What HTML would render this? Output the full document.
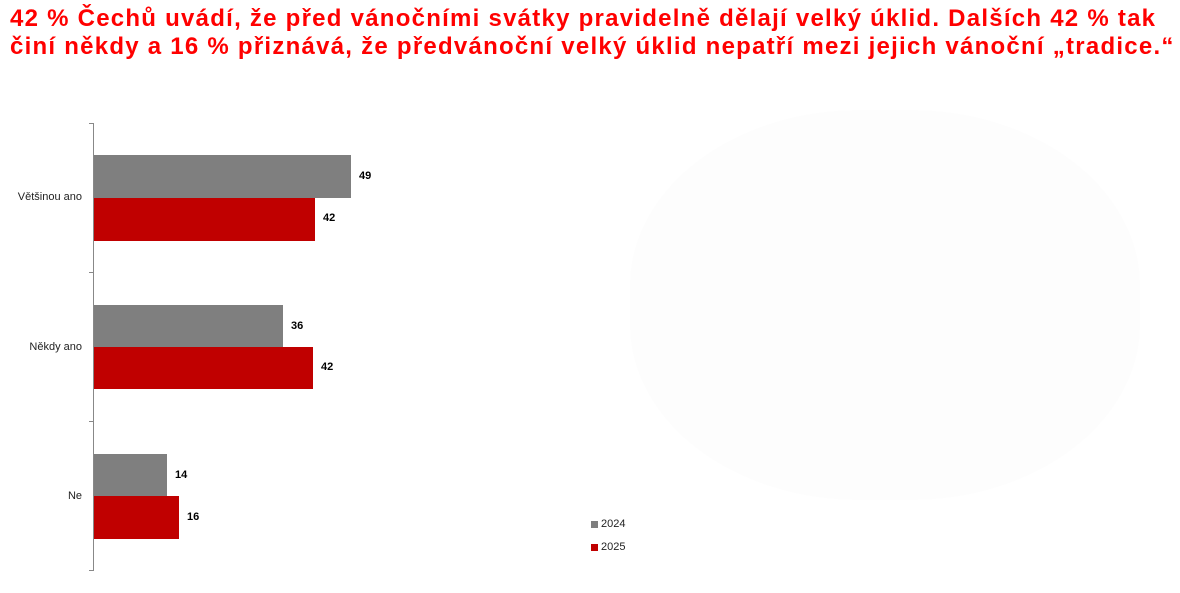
<!DOCTYPE html>
<html><head><meta charset="utf-8"><style>
body{margin:0;width:1180px;height:593px;background:#fff;position:relative;overflow:hidden;font-family:"Liberation Sans",sans-serif}
.t{position:absolute;left:10px;top:5px;color:#f00;font-weight:bold;font-size:24px;letter-spacing:1.25px;line-height:28px;white-space:nowrap}
.b{position:absolute;left:94px}
.g{background:#7f7f7f}.r{background:#c00000}
.v{position:absolute;font-size:11px;font-weight:bold;color:#000}
.c{position:absolute;font-size:11px;color:#222;text-align:right;width:80px;left:2px}
.l{position:absolute;font-size:11px;color:#222}
.sq{position:absolute;width:7px;height:7px}
</style></head><body>
<div class="t">42 % Čechů uvádí, že před vánočními svátky pravidelně dělají velký úklid. Dalších 42 % tak<br>činí někdy a 16 % přiznává, že předvánoční velký úklid nepatří mezi jejich vánoční „tradice.“</div>
<div style="position:absolute;left:630px;top:110px;width:510px;height:390px;background:#fdfdfd;border-radius:45%"></div>
<div style="position:absolute;left:93px;top:123px;width:1px;height:448px;background:#888"></div>
<div style="position:absolute;left:89px;top:123px;width:4px;height:1px;background:#888"></div>
<div style="position:absolute;left:89px;top:272px;width:4px;height:1px;background:#888"></div>
<div style="position:absolute;left:89px;top:421px;width:4px;height:1px;background:#888"></div>
<div style="position:absolute;left:89px;top:570px;width:4px;height:1px;background:#888"></div>
<div class="b g" style="top:155px;width:257px;height:43px"></div>
<div class="b r" style="top:198px;width:221px;height:43px"></div>
<div class="b g" style="top:305px;width:189px;height:42px"></div>
<div class="b r" style="top:347px;width:219px;height:42px"></div>
<div class="b g" style="top:454px;width:73px;height:42px"></div>
<div class="b r" style="top:496px;width:85px;height:43px"></div>
<div class="v" style="left:359px;top:170px">49</div>
<div class="v" style="left:323px;top:212px">42</div>
<div class="v" style="left:291px;top:320px">36</div>
<div class="v" style="left:321px;top:361px">42</div>
<div class="v" style="left:175px;top:469px">14</div>
<div class="v" style="left:187px;top:511px">16</div>
<div class="c" style="top:191px">Většinou ano</div>
<div class="c" style="top:341px">Někdy ano</div>
<div class="c" style="top:490px">Ne</div>
<div class="sq g" style="left:591px;top:521px"></div>
<div class="l" style="left:601px;top:518px">2024</div>
<div class="sq r" style="left:591px;top:544px"></div>
<div class="l" style="left:601px;top:541px">2025</div>
</body></html>
